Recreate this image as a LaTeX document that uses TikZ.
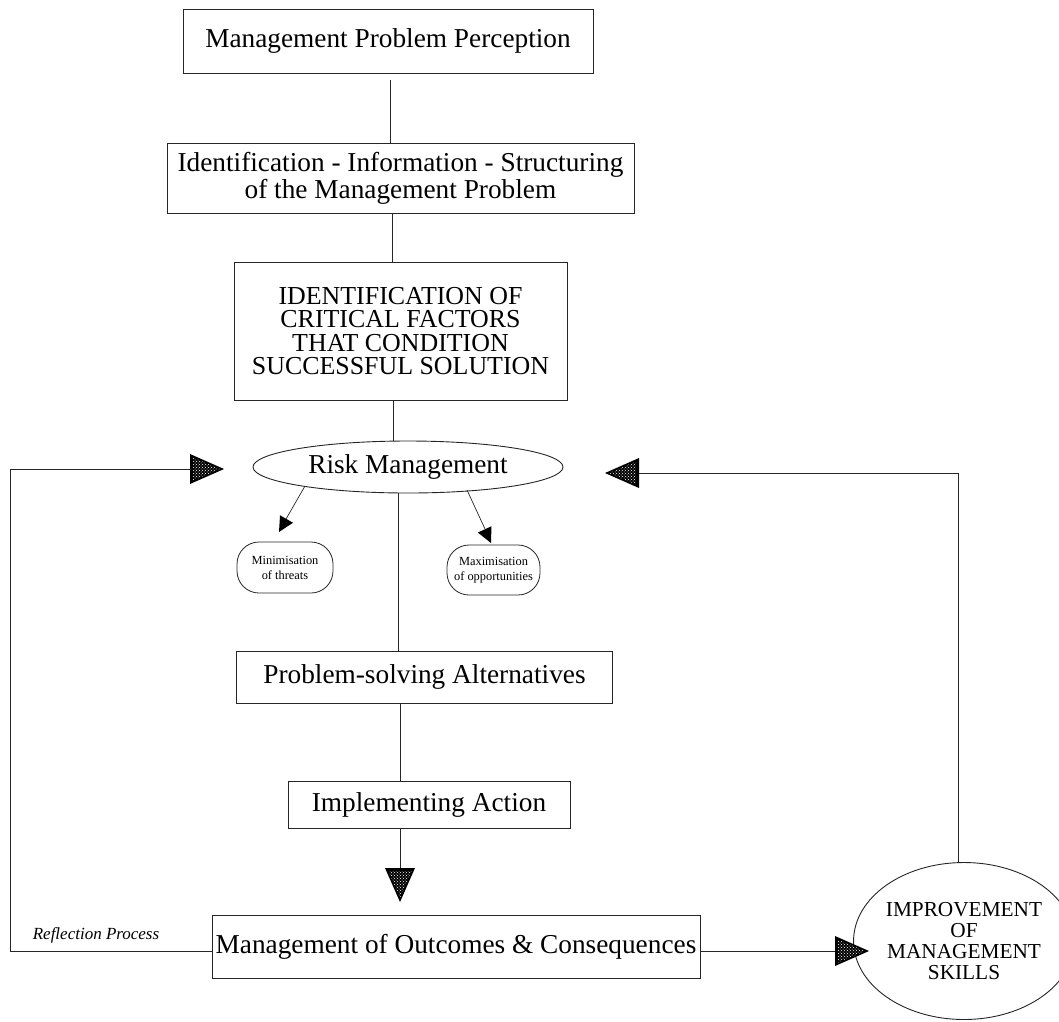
\documentclass[tikz,border=0pt]{standalone}
\usepackage{fontspec}
\setmainfont{Liberation Serif}
\usetikzlibrary{shapes.geometric,patterns,calc}

\tikzset{
  link/.style={draw=black!85, line width=0.9pt},
  stepbox/.style={rectangle, draw=black!85, line width=0.9pt, inner sep=0pt,
    align=center, font=\fontsize{27.3}{27}\selectfont},
  capsbox/.style={stepbox, font=\fontsize{25.9}{23.5}\selectfont},
  riskell/.style={ellipse, draw=black!85, line width=0.9pt, inner sep=0pt,
    minimum width=310pt, minimum height=52pt, font=\fontsize{27.3}{27}\selectfont},
  subcap/.style={rectangle, rounded corners=22pt, draw=black!85, line width=0.8pt,
    inner sep=0pt, align=center, font=\fontsize{12.4}{15}\selectfont},
  skillell/.style={ellipse, draw=black!85, line width=0.9pt, inner sep=0pt,
    minimum width=188pt, minimum height=157pt, align=center,
    font=\fontsize{21.3}{21}\selectfont},
  pics/headtri/.style={code={
    \fill[black] (0,0) -- (-34,-15) -- (-34,15) -- cycle;
    \fill[pattern=crosshatch dots, pattern color=white] (-4,0) -- (-31,-11.5) -- (-31,11.5) -- cycle;
  }},
  pics/smalltri/.style={code={
    \fill[black] (0,0) -- (-15,-7.5) -- (-15,7.5) -- cycle;
  }}
}

\begin{document}
\begin{tikzpicture}[x=1pt,y=-1pt]
\useasboundingbox (0,0) rectangle (1059,1021);

% main chain of boxes
\node[stepbox, minimum width=410pt, minimum height=64pt] (perc) at (388,41)
  {Management Problem Perception};
\node[stepbox, minimum width=467pt, minimum height=70pt] (ident) at (400.5,178)
  {Identification - Information - Structuring\\of the Management Problem};
\node[capsbox, minimum width=333pt, minimum height=138pt] (crit) at (400.5,331)
  {IDENTIFICATION OF\\CRITICAL FACTORS\\THAT CONDITION\\SUCCESSFUL SOLUTION};
\node[riskell] (risk) at (408,467) {Risk Management};
\node[subcap, minimum width=96pt, minimum height=51pt] (minth) at (285,567.5)
  {Minimisation\\of threats};
\node[subcap, minimum width=93pt, minimum height=50pt] (maxop) at (493.5,570)
  {Maximisation\\of opportunities};
\node[stepbox, minimum width=376pt, minimum height=52pt] (alts) at (424.5,677)
  {Problem-solving Alternatives};
\node[stepbox, minimum width=282pt, minimum height=47pt] (impl) at (429,804.5)
  {Implementing Action};
\node[stepbox, minimum width=488pt, minimum height=63pt] (outc) at (456,946.5)
  {Management of Outcomes \& Consequences};
\node[skillell] (skill) at (964,941)
  {IMPROVEMENT\\OF\\MANAGEMENT\\SKILLS};
\node[font=\itshape\fontsize{17}{18}\selectfont, inner sep=0pt] (refl) at (96,935)
  {Reflection Process};

% rails and arrow positions
\coordinate (c1) at (390,0);
\coordinate (c2) at (392,0);
\coordinate (c3) at (393,0);
\coordinate (c4) at (398,0);
\coordinate (c5) at (400,0);
\coordinate (lx) at (10,0);
\coordinate (rx) at (958,0);
\coordinate (ry) at (0,951);
\coordinate (ltip) at (224,469);
\coordinate (lbase) at (190,469);
\coordinate (rtip) at (605,473);
\coordinate (rbase) at (639,473);
\coordinate (dtip) at (400,902);
\coordinate (dbase) at (400,868);
\coordinate (stip) at (869,951);
\coordinate (sbase) at (835,951);
\coordinate (mstart) at (305,486);
\coordinate (mtip) at (279,532);
\coordinate (mbase) at (286,519);
\coordinate (xstart) at (467,490);
\coordinate (xtip) at (491,543);
\coordinate (xbase) at (485,529);

% vertical flow
\draw[link, shorten <=7pt] (perc.south -| c1) -- (ident.north -| c1);
\draw[link] (ident.south -| c2) -- (crit.north -| c2);
\draw[link] (crit.south -| c3) -- (risk.north -| c3);
\draw[link] (risk.south -| c4) -- (alts.north -| c4);
\draw[link] (alts.south -| c5) -- (impl.north -| c5);
\draw[link] (impl.south -| c5) -- (dbase);
\pic[rotate=-90] at (dtip) {headtri};

% risk branches
\draw[link, line width=0.7pt] (mstart) -- (mbase);
\pic[rotate=-120] at (mtip) {smalltri};
\draw[link, line width=0.7pt] (xstart) -- (xbase);
\pic[rotate=-65] at (xtip) {smalltri};

% outcome to skills
\draw[link] (outc.east |- ry) -- (sbase);
\pic at (stip) {headtri};

% reflection loop back to risk management
\draw[link] (outc.west |- ry) -- (lx |- ry) -- (lbase -| lx) -- (lbase);
\pic at (ltip) {headtri};

% skills loop back to risk management
\draw[link] (skill.north -| rx) -- (rbase -| rx) -- (rbase);
\pic[rotate=180] at (rtip) {headtri};
\end{tikzpicture}
\end{document}
